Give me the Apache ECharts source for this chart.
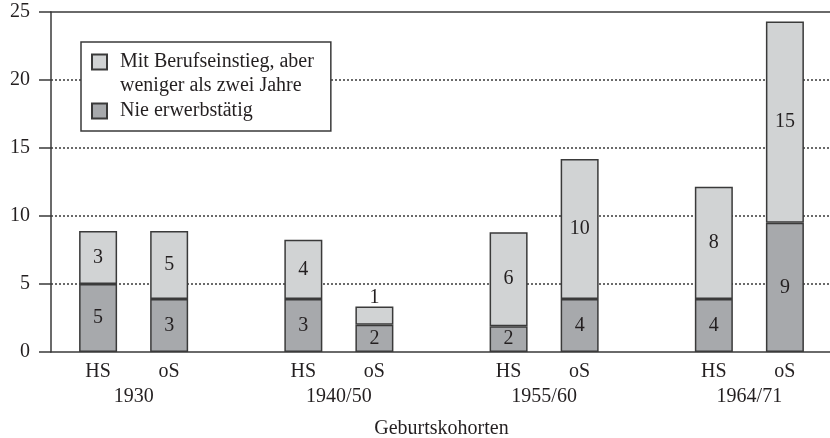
<!DOCTYPE html>
<html>
<head>
<meta charset="utf-8">
<script src="https://cdn.jsdelivr.net/npm/echarts@6/dist/echarts.min.js"></script>
<style>
html,body{margin:0;padding:0;background:#fff;}
#chart{width:830px;height:438px;}
</style>
</head>
<body>
<div id="chart"></div>
<script>
// ---- data ----
var cohorts = ['1930', '1940/50', '1955/60', '1964/71'];
var schoolTypes = ['HS', 'oS'];
var seriesNames = ['Mit Berufseinstieg, aber\nweniger als zwei Jahre', 'Nie erwerbstätig'];
var neverHS = [5.0, 3.9, 1.9, 3.9];
var shortHS = [3.9, 4.35, 6.9, 8.25];
var neverOS = [3.9, 2.0, 3.9, 9.5];
var shortOS = [5.0, 1.35, 10.3, 14.8];
var neverHSLabels = [5, 3, 2, 4];
var shortHSLabels = [3, 4, 6, 8];
var neverOSLabels = [3, 2, 4, 9];
var shortOSLabels = [5, 1, 10, 15];
var yTicks = [0, 5, 10, 15, 20, 25];

// ---- style ----
var FONT = 'Liberation Serif';
var TXT = '#231f20';
var LINE = '#3a3a3a';
var LIGHT = '#d1d3d4';
var DARK = '#a7a9ac';

function buildData(values, labels) {
  return values.map(function (v, i) {
    var item = { value: v, lbl: labels[i] };
    if (v < 1.5) {
      item.label = { position: 'top', distance: -1 };
    }
    return item;
  });
}

function barSeries(name, stack, values, labels, color) {
  return {
    type: 'bar',
    name: name,
    stack: stack,
    xAxisIndex: 2,
    yAxisIndex: 1,
    barWidth: 38,
    barGap: '87%',
    data: buildData(values, labels),
    itemStyle: { color: color, borderColor: LINE, borderWidth: 1.5 },
    label: {
      show: true,
      position: 'inside',
      fontFamily: FONT,
      fontSize: 20,
      color: TXT,
      formatter: function (p) { return String(p.data.lbl); }
    },
    emphasis: { disabled: true },
    z: 5
  };
}

var chart = echarts.init(document.getElementById('chart'), null, { renderer: 'canvas' });
var option = {
  animation: false,
  backgroundColor: '#fff',
  textStyle: { fontFamily: FONT, color: TXT },
  grid: [
    { left: 51, right: 0, top: 12, bottom: 86, outerBoundsMode: 'none', containLabel: false },
    { left: 31, right: -22, top: 12, bottom: 86, outerBoundsMode: 'none', containLabel: false }
  ],
  legend: {
    orient: 'vertical',
    left: 81,
    top: 42,
    padding: [-16, 17, 8, 10],
    itemGap: 1,
    itemWidth: 15,
    itemHeight: 15,
    borderColor: LINE,
    borderWidth: 1.5,
    backgroundColor: '#fff',
    z: 20,
    formatter: function (name) {
      return name === seriesNames[0] ? '\n' + name : name;
    },
    textStyle: { fontFamily: FONT, fontSize: 20, color: TXT, lineHeight: 24 },
    data: [
      { name: seriesNames[0], icon: 'rect', textStyle: { padding: [0, 0, 0, 8] } },
      { name: seriesNames[1], icon: 'rect', textStyle: { padding: [0, 0, 0, 8] } }
    ]
  },
  xAxis: [
    {
      gridIndex: 0, type: 'value', min: 0, max: 1, position: 'bottom',
      axisLine: { show: true, onZero: false, lineStyle: { color: LINE, width: 1.5 } },
      axisTick: { show: false }, axisLabel: { show: false }, splitLine: { show: false }
    },
    {
      gridIndex: 0, type: 'value', min: 0, max: 1, position: 'top',
      axisLine: { show: true, onZero: false, lineStyle: { color: LINE, width: 1.5 } },
      axisTick: { show: false }, axisLabel: { show: false }, splitLine: { show: false }
    },
    {
      gridIndex: 1, type: 'category', data: cohorts, position: 'bottom',
      axisLine: { show: false, onZero: false }, axisTick: { show: false },
      axisLabel: {
        margin: 7,
        interval: 0,
        formatter: function (v) {
          return '{s|' + schoolTypes[0] + '}{s|' + schoolTypes[1] + '}\n{y|' + v + '}';
        },
        rich: {
          s: { width: 71, align: 'center', fontFamily: FONT, fontSize: 20, color: TXT, lineHeight: 25 },
          y: { fontFamily: FONT, fontSize: 20, color: TXT, lineHeight: 25 }
        }
      },
      name: 'Geburtskohorten',
      nameLocation: 'middle',
      nameGap: 67,
      nameTextStyle: { fontFamily: FONT, fontSize: 20, color: TXT }
    }
  ],
  yAxis: [
    {
      gridIndex: 0, type: 'value', min: yTicks[0], max: yTicks[yTicks.length - 1], interval: 5,
      axisLine: { show: true, onZero: false, lineStyle: { color: LINE, width: 1.5 } },
      axisTick: { show: true, length: 12, lineStyle: { color: LINE, width: 1.5 } },
      axisLabel: { margin: 21, fontFamily: FONT, fontSize: 20, color: TXT },
      splitLine: { show: true, showMinLine: false, showMaxLine: false, lineStyle: { color: LINE, width: 1.5, type: [2, 2] } }
    },
    {
      gridIndex: 1, type: 'value', min: yTicks[0], max: yTicks[yTicks.length - 1],
      show: false, splitLine: { show: false }
    }
  ],
  series: [
    barSeries(seriesNames[1], 'HS', neverHS, neverHSLabels, DARK),
    barSeries(seriesNames[0], 'HS', shortHS, shortHSLabels, LIGHT),
    barSeries(seriesNames[1], 'oS', neverOS, neverOSLabels, DARK),
    barSeries(seriesNames[0], 'oS', shortOS, shortOSLabels, LIGHT)
  ]
};
chart.setOption(option);
</script>
</body>
</html>
